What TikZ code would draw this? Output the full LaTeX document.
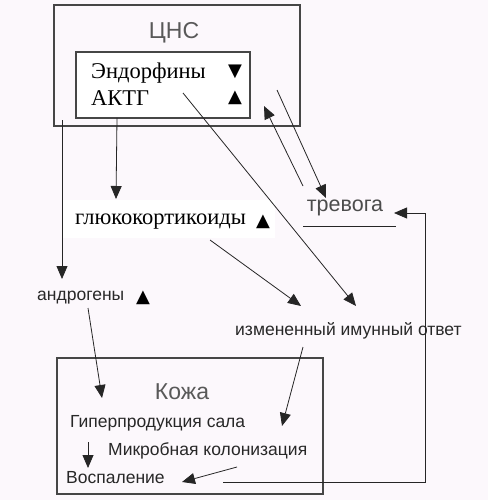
\documentclass[tikz,border=0pt]{standalone}
\usepackage{fontspec}
\setmainfont{Liberation Serif}
\setsansfont{Liberation Sans}
\newfontfamily\symfont{DejaVu Sans}
\usetikzlibrary{arrows.meta}
\definecolor{bgc}{RGB}{252,248,252}
\definecolor{txtgray}{RGB}{40,40,40}
\definecolor{boxgray}{RGB}{70,70,70}
\tikzset{
  arr/.style={line width=0.8pt, draw=black!85, -{Triangle[length=13pt,width=11pt]}},
  plain/.style={line width=0.8pt, draw=black!85},
  boxx/.style={draw=boxgray, line width=1.3pt, inner sep=0pt},
  serift/.style={font=\fontsize{22.5}{26}\selectfont\rmfamily, text=black, inner sep=0pt, anchor=west},
  sanst/.style={font=\fontsize{17.5}{20}\selectfont\sffamily, text=txtgray, inner sep=0pt, anchor=west},
  titlet/.style={font=\fontsize{23}{26}\selectfont\sffamily, text=black!65, inner sep=0pt},
  tri/.style={font=\fontsize{18}{20}\selectfont\symfont, text=black, inner sep=0pt}
}
\begin{document}
\begin{tikzpicture}[x=1pt,y=-1pt]
\fill[bgc] (0,0) rectangle (488,500);
\useasboundingbox (0,0) rectangle (488,500);
% CNS
\node[boxx, minimum width=246pt, minimum height=121pt] (cns) at (177,65.5) {};
\node[titlet] (cnst) at (174,33) {ЦНС};
\node[boxx, fill=white, minimum width=174pt, minimum height=66pt] (inner) at (163,85) {};
\node[serift] (endo) at (91,73) {Эндорфины};
\node[tri] (endotri) at (235,72) {▼};
\node[serift] (actg) at (91,98) {АКТГ};
\node[tri] (actgtri) at (235,98) {▲};
% тревога
\node[font=\fontsize{21.5}{24}\selectfont\sffamily, text=black!70, inner sep=0pt] (trev) at (345,208) {тревога};
\coordinate (ul1) at (303,226);
\coordinate (ul2) at (396,226);
\draw[plain] (ul1) -- (ul2);
% glucocorticoids
\fill[white] (63,200) rectangle (275,238);
\node[serift] (gluco) at (75,222) {глюкокортикоиды};
\node[tri] (glucotri) at (263,222) {▲};
% androgens
\node[sanst] (andro) at (37,298) {андрогены};
\node[tri] (androtri) at (143,298) {▲};
% immune
\node[sanst] (imm) at (235,331) {измененный имунный ответ};
% Skin
\node[boxx, minimum width=266pt, minimum height=136pt] (skin) at (190,426) {};
\node[titlet] (skint) at (182,392) {Кожа};
\node[sanst] (hyper) at (70,423) {Гиперпродукция сала};
\node[sanst] (micro) at (108,451) {Микробная колонизация};
\node[sanst] (infl) at (66,478) {Воспаление};
% connector points
\coordinate (p1a) at (62,120);   \coordinate (p1b) at (62,279);
\coordinate (p2a) at (117,118);  \coordinate (p2b) at (116,199);
\coordinate (p3a) at (183,93);   \coordinate (p3b) at (356,306);
\coordinate (p4a) at (303,186);  \coordinate (p4b) at (264,106);
\coordinate (p5a) at (277,90);   \coordinate (p5b) at (326,198);
\coordinate (p6a) at (223,482);  \coordinate (p6c) at (425,482); \coordinate (p6d) at (425,213); \coordinate (p6b) at (394,213);
\coordinate (p7a) at (210,240);  \coordinate (p7b) at (301,306);
\coordinate (p8a) at (88,308);   \coordinate (p8b) at (102,398);
\coordinate (p9a) at (303,347);  \coordinate (p9b) at (282,426);
\coordinate (p10a) at (88,442);  \coordinate (p10b) at (88,468);
\coordinate (p11a) at (237,467); \coordinate (p11b) at (182,482);
\draw[arr] (p1a) -- (p1b);
\draw[arr] (p2a) -- (p2b);
\draw[arr] (p3a) -- (p3b);
\draw[arr] (p4a) -- (p4b);
\draw[arr] (p5a) -- (p5b);
\draw[arr] (p6a) -- (p6c) -- (p6d) -- (p6b);
\draw[arr] (p7a) -- (p7b);
\draw[arr] (p8a) -- (p8b);
\draw[arr] (p9a) -- (p9b);
\draw[arr] (p10a) -- (p10b);
\draw[arr] (p11a) -- (p11b);
\end{tikzpicture}
\end{document}
